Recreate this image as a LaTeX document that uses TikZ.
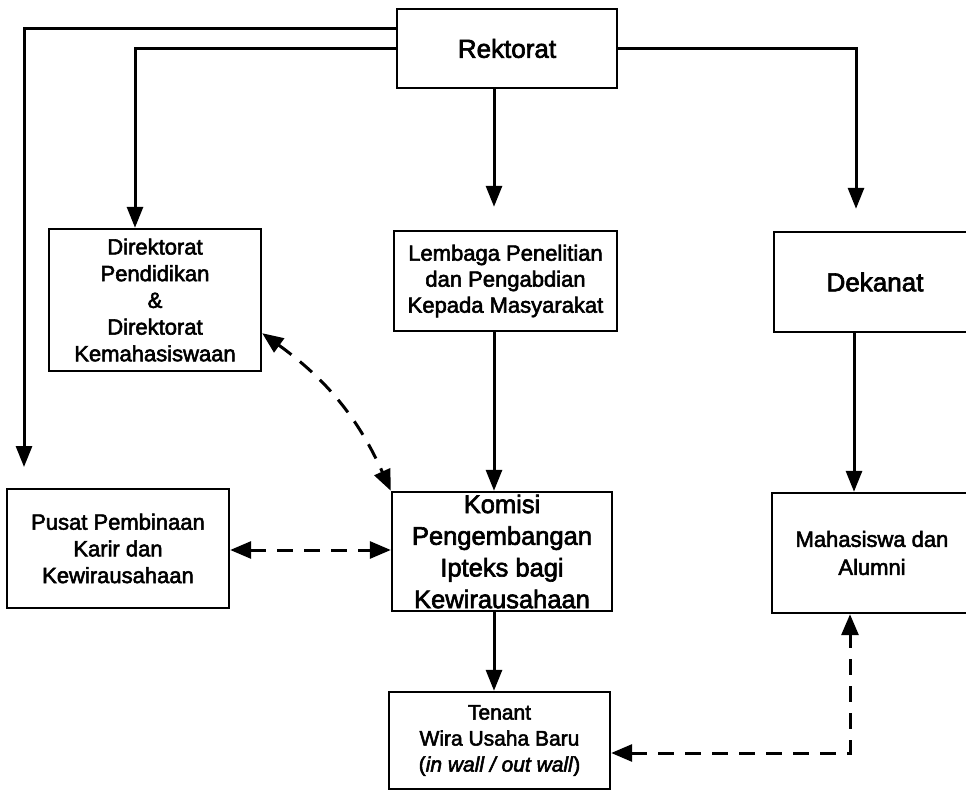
\documentclass[tikz,border=0pt]{standalone}
\usepackage{fontspec}
\setmainfont{Liberation Sans}[FakeBold=2.5,ItalicFeatures={FakeBold=2.5}]
\usetikzlibrary{arrows.meta,calc}
\tikzset{
  box/.style={draw, line width=2.4pt, inner sep=0pt, align=center, font=\fontsize{22}{26.7}\selectfont},
  arr/.style={line width=3pt, -{Triangle[length=21pt,width=16pt]}},
  darr/.style={line width=3pt, dash pattern=on 16pt off 11pt, {Triangle[length=21pt,width=17pt]}-{Triangle[length=21pt,width=17pt]}},
}
\begin{document}
\begin{tikzpicture}[x=1pt,y=-1pt]
\useasboundingbox (0,0) rectangle (966,794);
\fill[white] (0,0) rectangle (966,794);
\clip (0,0) rectangle (966,794);
\node[box, minimum width=220pt, minimum height=79pt, font=\fontsize{26}{30}\selectfont] (rek) at (507,48.5) {Rektorat};
\node[box, minimum width=212pt, minimum height=142pt] (dir) at (155,300) {Direktorat\\Pendidikan\\\&\\Direktorat\\Kemahasiswaan};
\node[box, minimum width=223pt, minimum height=100pt, font=\fontsize{22}{26}\selectfont] (lem) at (505.5,281) {Lembaga Penelitian\\dan Pengabdian\\Kepada Masyarakat};
\node[box, minimum width=202pt, minimum height=100pt, font=\fontsize{26}{30}\selectfont] (dek) at (875,282) {Dekanat};
\node[box, minimum width=222pt, minimum height=119pt] (pus) at (118,548.5) {Pusat Pembinaan\\Karir dan\\Kewirausahaan};
\node[box, minimum width=220pt, minimum height=119pt, font=\fontsize{25.5}{31.7}\selectfont] (kom) at (502,551.5) {Komisi\\Pengembangan\\Ipteks bagi\\Kewirausahaan};
\node[box, minimum width=200pt, minimum height=120pt, font=\fontsize{22}{28}\selectfont] (mah) at (872,553) {Mahasiswa dan\\Alumni};
\node[box, minimum width=221pt, minimum height=97pt, font=\fontsize{21}{26}\selectfont] (ten) at (499.5,740.5) {Tenant\\Wira Usaha Baru\\(\textit{in wall / out wall})};
\coordinate (p1) at (24,467);
\coordinate (cx) at (494,0);
\draw[arr] ($(rek.north west)!0.25!(rek.south west)$) -| (p1);
\draw[arr] (rek.west) -| ([xshift=-20pt]dir.north);
\draw[arr, shorten >=23pt] (rek.south -| cx) -- (lem.north -| cx);
\draw[arr, shorten >=22pt] (rek.east) -| ([xshift=-19pt]dek.north);
\draw[arr] (lem.south -| cx) -- (kom.north -| cx);
\draw[arr] ([xshift=-21pt]dek.south) -- ([xshift=-21pt]dek.south |- mah.north);
\draw[arr] (kom.south -| cx) -- (ten.north -| cx);
\draw[darr] ([yshift=39pt]dir.south east) to[bend left=15] (kom.north west);
\draw[darr] ([yshift=-1.5pt]pus.east) -- ([yshift=-1.5pt]pus.east -| kom.west);
\draw[darr] ([yshift=-12.5pt]ten.east) -| ([xshift=-22pt]mah.south);
\end{tikzpicture}
\end{document}
